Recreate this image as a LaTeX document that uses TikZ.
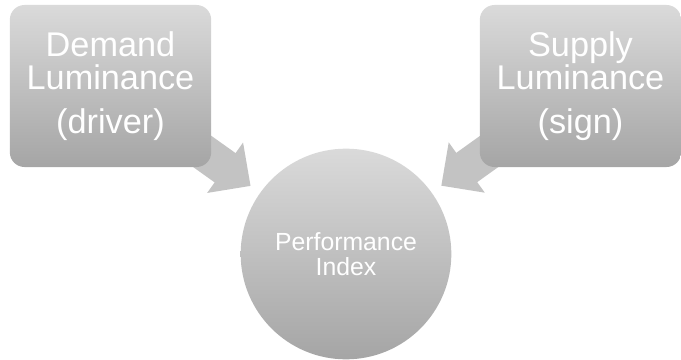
\documentclass[tikz,border=0pt]{standalone}
\usepackage{fontspec}
\setmainfont{Liberation Sans}
\usetikzlibrary{arrows.meta}
\usetikzlibrary{backgrounds}
\definecolor{boxtop}{RGB}{218,218,218}
\definecolor{boxbottom}{RGB}{165,165,165}
\definecolor{pfeilgrau}{RGB}{195,195,195}

\begin{document}
\begin{tikzpicture}[x=0.75pt, y=-0.75pt,
    lumbox/.style={rectangle, rounded corners=11pt, minimum width=151pt, minimum height=121.5pt,
        top color=boxtop, bottom color=boxbottom, text=white, align=center,
        font=\fontsize{25.7}{24.75}\selectfont},
    perfcircle/.style={circle, minimum size=158pt, inner sep=0pt,
        top color=boxtop, bottom color=boxbottom, text=white, align=center,
        font=\fontsize{18.6}{18.75}\selectfont},
    flow/.style={draw=pfeilgrau, line width=27pt, shorten >=8.7pt,
        -{Triangle[width=45pt, length=23.5pt]}}]

    \useasboundingbox (0,0) rectangle (681,360);

    \node[lumbox] (demand) at (110.5,86) {Demand\\Luminance\\[8pt](driver)};
    \node[lumbox] (supply) at (580.5,86) {Supply\\Luminance\\[8pt](sign)};
    \node[perfcircle] (perf) at (346,254) {Performance\\Index};

    \begin{scope}[on background layer]
        \foreach \src in {demand, supply}
            \draw[flow] (\src.center) -- (perf);
    \end{scope}

\end{tikzpicture}
\end{document}
